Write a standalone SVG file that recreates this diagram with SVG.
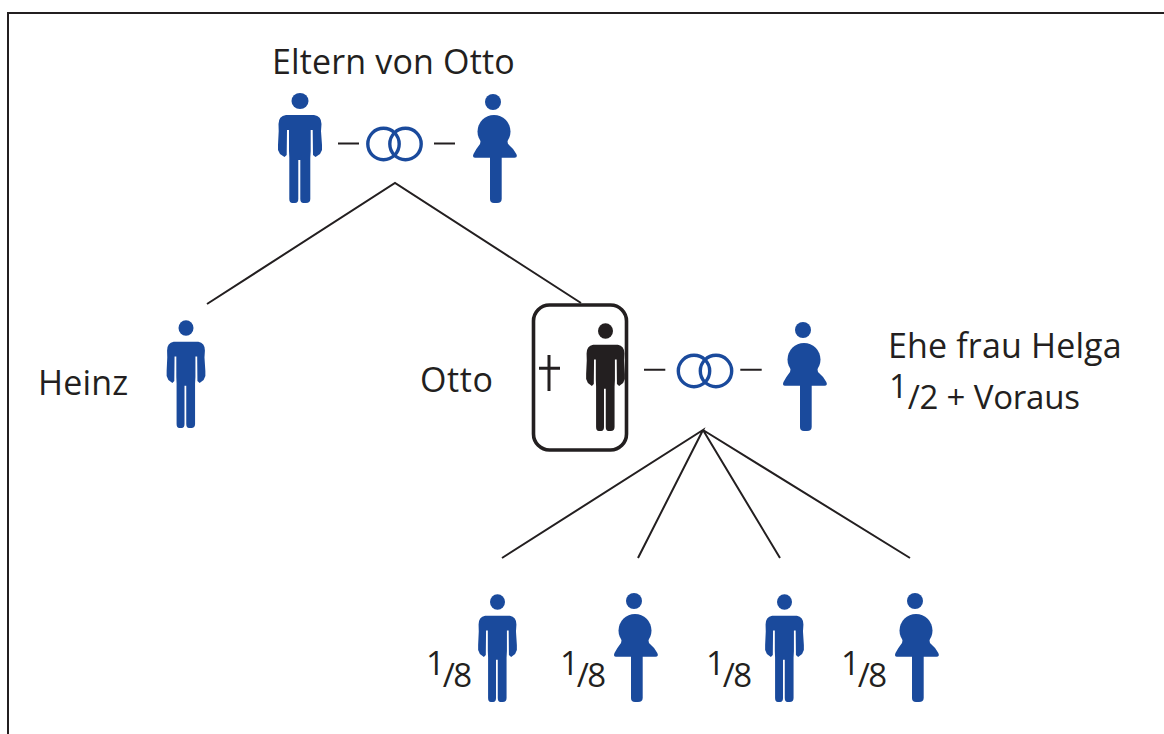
<svg xmlns="http://www.w3.org/2000/svg" width="1164" height="734" viewBox="0 0 1164 734">
<style>
text{font-family:"Open Sans","Noto Sans","Liberation Sans",sans-serif;font-size:34px;fill:#231f20;letter-spacing:.15px}
.frac{font-size:33px;letter-spacing:-.2px}
.den{letter-spacing:-1.4px}
.blue{fill:#1a4a9c}
.black{fill:#231f20}
.line{stroke:#231f20;stroke-width:2;fill:none}
.ring{stroke:#1a4a9c;stroke-width:3.4;fill:none}
</style>
<defs>
<g id="man">
<ellipse cx="0" cy="0" rx="8.5" ry="8"/>
<path d="M-14,14 H14 Q21.5,15 21.5,23 L21,30 L22,44 V49 L20,53 L15.5,56 L13,54 L12.7,29 H10.7 V50 L10.3,57 V98 Q10.3,102 6,102 H3.5 Q0.3,102 0.3,98 V59 H-1.7 V98 Q-1.7,102 -5,102 H-7.5 Q-10.7,102 -10.7,98 V57 L-11,50 V29 H-13 L-13.3,54 L-15.5,56 L-20,53 L-22,49 V44 L-21.3,30 L-21.5,23 Q-21.5,15 -14,14Z"/>
</g>
<g id="woman">
<circle cx="0" cy="0" r="8"/>
<circle cx="1" cy="29.5" r="16.5"/>
<path d="M-12,37 L-13,42 Q-17,47 -19.5,52 Q-21,55.7 -18,55.7 H21.5 Q25,55.7 23.3,52 Q20,46 15,42 L14,37Z"/>
<path d="M-3,50 H8.7 V97 Q8.7,101 4,101 H1 Q-3,101 -3,97Z"/>
</g>
<g id="rings">
<circle cx="-11" cy="0" r="15.7"/>
<circle cx="11" cy="0" r="15.7"/>
</g>
</defs>
<path id="frame" d="M8,734 V13 H1164" fill="none" stroke="#231f20" stroke-width="2"/>
<g id="connectors" class="line">
<path d="M338,143.5 H359 M434,143.5 H455"/>
<path d="M207,304 L395,183 L581,303"/>
<path d="M644,369.7 H665.3 M740.3,369.7 H761.7"/>
<path d="M502,558 L703,430 L638,558 M703,430 L780,558 M703,430 L910,558"/>
</g>
<g id="rings-parents" class="ring"><use href="#rings" x="394.5" y="144"/></g>
<g id="rings-otto" class="ring"><use href="#rings" x="705" y="371"/></g>
<g id="label-parents"><text x="272" y="74">Eltern von Otto</text></g>
<g id="father" class="blue"><use href="#man" x="300" y="101"/></g>
<g id="mother" class="blue"><use href="#woman" x="493" y="102"/></g>
<g id="heinz" class="blue"><use href="#man" transform="translate(186 328) scale(.88 .98)"/></g>
<g id="label-heinz"><text x="38" y="395">Heinz</text></g>
<g id="otto">
<rect x="533.5" y="305" width="93" height="145" rx="16" fill="none" stroke="#231f20" stroke-width="3.6"/>
<path d="M549,355 V391 M539,368.3 H560" stroke="#231f20" stroke-width="3" fill="none"/>
<use href="#man" class="black" transform="translate(605.5 331) scale(.88 .98)"/>
</g>
<g id="label-otto"><text x="420" y="392" style="letter-spacing:.6px">Otto</text></g>
<g id="helga" class="blue"><use href="#woman" x="803" y="330"/></g>
<g id="label-helga">
<text x="888" y="357.5">Ehe frau Helga</text>
<text class="frac" x="889" y="409"><tspan dy="-11.3">1</tspan><tspan dy="11.3">/2 + Voraus</tspan></text>
</g>
<g id="child1" class="blue"><use href="#man" transform="translate(497.5 602) scale(.88 .98)"/></g>
<g id="child2" class="blue"><use href="#woman" x="634" y="601"/></g>
<g id="child3" class="blue"><use href="#man" transform="translate(784.5 602) scale(.88 .98)"/></g>
<g id="child4" class="blue"><use href="#woman" x="915" y="601"/></g>
<g id="share1"><text class="frac" x="426" y="687"><tspan dy="-12">1</tspan><tspan class="den" dy="12" dx="-2">/8</tspan></text></g>
<g id="share2"><text class="frac" x="560" y="687"><tspan dy="-12">1</tspan><tspan class="den" dy="12" dx="-2">/8</tspan></text></g>
<g id="share3"><text class="frac" x="706" y="687"><tspan dy="-12">1</tspan><tspan class="den" dy="12" dx="-2">/8</tspan></text></g>
<g id="share4"><text class="frac" x="841" y="687"><tspan dy="-12">1</tspan><tspan class="den" dy="12" dx="-2">/8</tspan></text></g>
</svg>
